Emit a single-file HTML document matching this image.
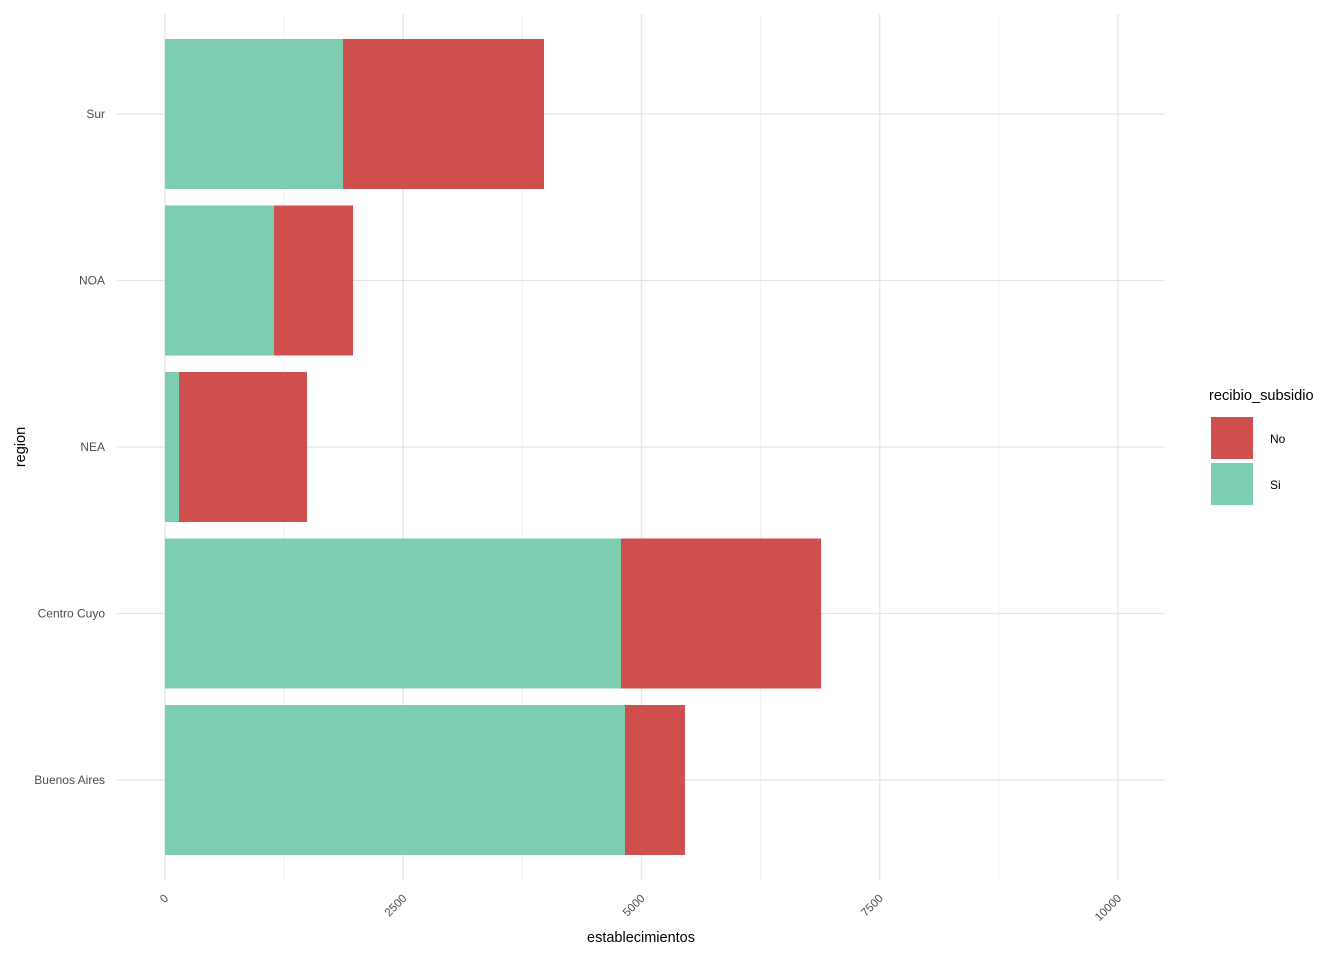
<!DOCTYPE html>
<html><head><meta charset="utf-8">
<style>
html,body{margin:0;padding:0;background:#fff;}
svg{display:block;font-family:"Liberation Sans",sans-serif;}
</style></head>
<body>
<svg id="chart" width="1344" height="960"></svg>
<script>
const categories = ["Buenos Aires","Centro Cuyo","NEA","NOA","Sur"];
const siValues = [4827,4785,147,1144,1868];
const noValues = [629,2099,1343,829,2109];
const xTicks = [0,2500,5000,7500,10000];
const xTickLabels = ["0","2500","5000","7500","10000"];

const NS="http://www.w3.org/2000/svg";
const svg=document.getElementById("chart");
const L=165, R=1165, T=14, B=880;
const xs=v=>L+v*(1118-165)/10000;
const band=166.5;
const yc=i=>780-band*i;
const bh=150;
function mk(tag,attrs,parent){const e=document.createElementNS(NS,tag);for(const k in attrs)e.setAttribute(k,attrs[k]);(parent||svg).appendChild(e);return e;}

for(let i=0;i<xTicks.length-1;i++){
  const g=mk("line",{x1:xs((xTicks[i]+xTicks[i+1])/2),x2:xs((xTicks[i]+xTicks[i+1])/2),y1:T,y2:B,stroke:"#f0f0f0","stroke-width":1});
  
  
}
xTicks.forEach((t,i)=>{
  const g=mk("line",{x1:xs(t),x2:xs(t),y1:T,y2:B,stroke:"#e5e5e5","stroke-width":1.3});
  
  
  const tx=mk("text",{x:xs(t)+4,y:899,"font-size":11.5,fill:"#4d4d4d","text-anchor":"end",transform:`rotate(-45 ${xs(t)+4} 899)`});
  tx.textContent=xTickLabels[i];
  
  
});
categories.forEach((c,i)=>{
  const g=mk("line",{x1:117,x2:R,y1:yc(i),y2:yc(i),stroke:"#e5e5e5","stroke-width":1.3});
  
  
  const tx=mk("text",{x:105,y:yc(i)+4,"font-size":12,fill:"#4d4d4d","text-anchor":"end"});
  tx.textContent=c;
  
  
});
categories.forEach((c,i)=>{
  const y=yc(i)-bh/2;
  const s=mk("rect",{x:xs(0),y:y,width:xs(siValues[i])-xs(0),height:bh,fill:"#7dcdb0"});
  
  
  const n=mk("rect",{x:xs(siValues[i]),y:y,width:xs(siValues[i]+noValues[i])-xs(siValues[i]),height:bh,fill:"#cf4e4e"});
  
  
});
let t=mk("text",{x:641,y:942,"font-size":14.5,fill:"#000","text-anchor":"middle"});
t.textContent="establecimientos";


t=mk("text",{x:25,y:447,"font-size":14.5,fill:"#000","text-anchor":"middle",transform:"rotate(-90 25 447)"});
t.textContent="region";


t=mk("text",{x:1209,y:400,"font-size":14.6,fill:"#000"});
t.textContent="recibio_subsidio";


[["No","#cf4e4e",417],["Si","#7dcdb0",463]].forEach(([lab,col,y])=>{
  const r=mk("rect",{x:1211,y:y,width:42,height:42,fill:col});
  
  
  const tx=mk("text",{x:1270,y:y+26,"font-size":12,fill:"#000"});
  tx.textContent=lab;
  
  
});
</script>
</body></html>
